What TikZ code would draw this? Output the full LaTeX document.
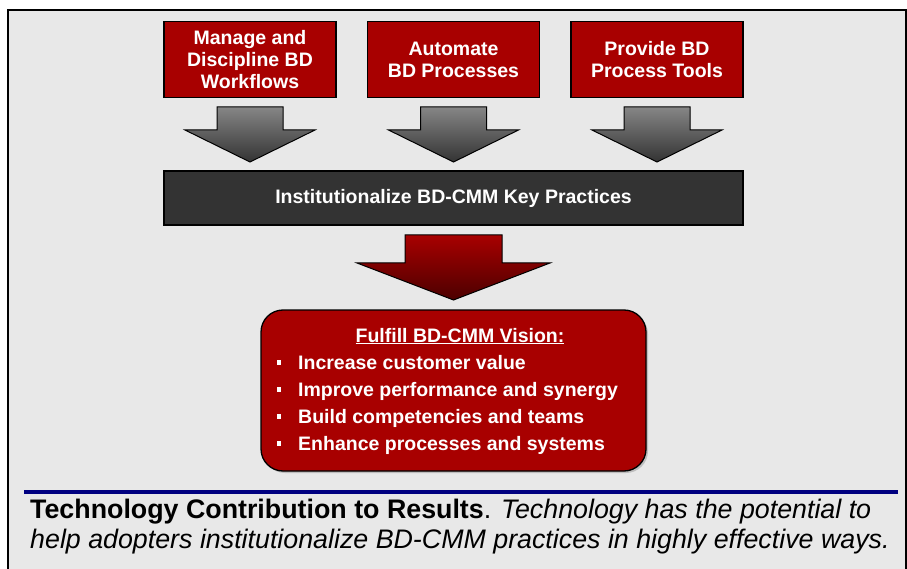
\documentclass[tikz,border=0pt]{standalone}
\usepackage{fontspec}
\setmainfont{Liberation Sans}
\usetikzlibrary{shadows}
\definecolor{bdred}{RGB}{168,0,0}
\definecolor{bgray}{RGB}{232,232,232}
\definecolor{darkbar}{RGB}{51,51,51}
\definecolor{navy}{RGB}{0,0,128}
\tikzset{
  redbox/.style={draw=black, line width=1.3pt, fill=bdred, text=white, font=\fontsize{19.5}{22}\selectfont\bfseries, align=center, minimum width=172pt, minimum height=76pt, inner sep=0pt},
  barbox/.style={draw=black, line width=1.3pt, fill=darkbar, text=white, font=\fontsize{19.5}{22}\selectfont\bfseries, minimum width=579pt, minimum height=54pt, inner sep=0pt},
  visionbox/.style={draw=black, line width=1.3pt, fill=bdred, rounded corners=22pt, minimum width=385pt, minimum height=161pt, inner sep=0pt, drop shadow={shadow xshift=2pt, shadow yshift=-2pt, opacity=0.4}},
  vtext/.style={text=white, font=\fontsize{19.5}{22}\selectfont\bfseries, anchor=base west, inner sep=0pt},
  bullet/.style={fill=white, minimum size=4.5pt, inner sep=0pt},
  captext/.style={anchor=base west, inner sep=0pt, font=\fontsize{26.8}{30}\selectfont},
  grayarrow/.style={draw=black, line width=1pt, top color=gray!95, bottom color=darkbar},
  redarrow/.style={draw=black, line width=1pt, top color=bdred, bottom color=bdred!45!black},
}
\begin{document}
\begin{tikzpicture}[x=1pt,y=-1pt]
\useasboundingbox (0,0) rectangle (907,569);
\fill[white] (0,0) rectangle (907,569);
\draw[fill=bgray, line width=1.3pt] (8,10) -- (8,572) -- (906,572) -- (906,10) -- cycle;

% top boxes
\node[redbox] (b1) at (250,59.5) {Manage and\\Discipline BD\\Workflows};
\node[redbox] (b2) at (453.5,59.5) {Automate\\BD Processes};
\node[redbox] (b3) at (657,59.5) {Provide BD\\Process Tools};

% gray arrows
\foreach \c/\n in {250/a1,453.5/a2,657/a3}{
  \shade[grayarrow] (\c-33,107) -- (\c+33,107) -- (\c+33,130) -- (\c+65,130) -- (\c,162) -- (\c-65,130) -- (\c-33,130) -- cycle;
  \coordinate (\n) at (\c,162);
}

% bar
\node[barbox] (bar) at (453.5,198) {Institutionalize BD-CMM Key Practices};

% red arrow
\shade[redarrow] (405,235) -- (502,235) -- (502,263) -- (550,263) -- (453.5,300) -- (357,263) -- (405,263) -- cycle;
\coordinate (ra) at (453.5,300);

% vision box
\node[visionbox] (vision) at (453.5,390.5) {};
\node[text=white, font=\fontsize{19.5}{22}\selectfont\bfseries, anchor=base, inner sep=0pt] (vtitle) at (460,342) {\underline{Fulfill BD-CMM Vision:}};
\foreach \y/\t/\n in {369/Increase customer value/v1, 396/Improve performance and synergy/v2, 423/Build competencies and teams/v3, 450/Enhance processes and systems/v4}{
  \node[bullet] (\n b) at (279,\y-6.5) {};
  \node[vtext] (\n) at (298,\y) {\t};
}

% bottom
\draw[navy, line width=4pt] (24,492) -- (898,492);
\coordinate (lineL) at (24,492);
\node[captext] (cap1) at (30,518.5) {\textbf{Technology Contribution to Results}. \textit{Technology has the potential to}};
\node[captext] (cap2) at (30,548.5) {\textit{help adopters institutionalize BD-CMM practices in highly effective ways.}};
\end{tikzpicture}
\end{document}
